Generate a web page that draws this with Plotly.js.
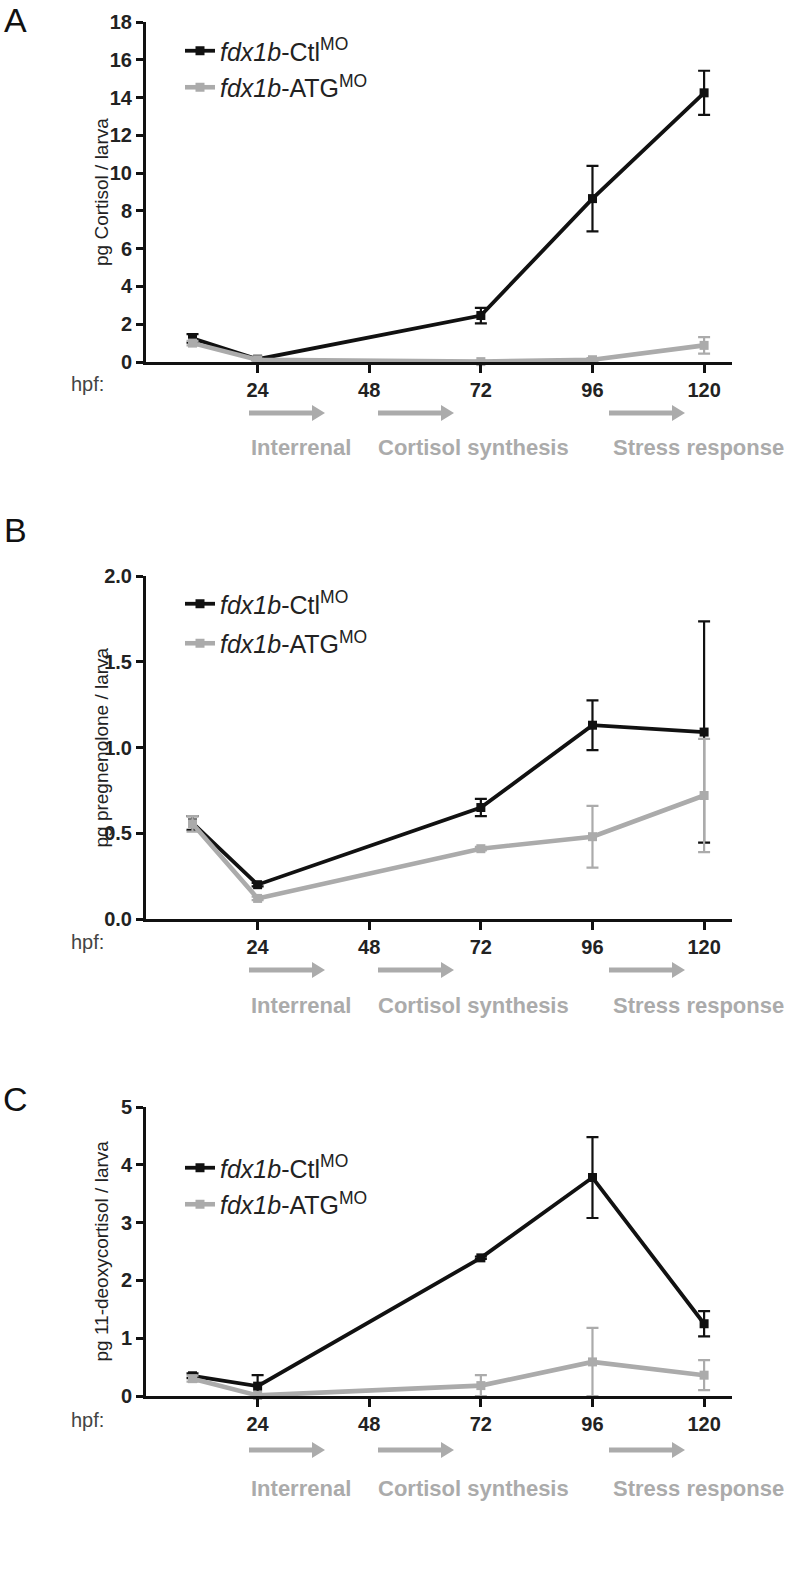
<!DOCTYPE html>
<html>
<head>
<meta charset="utf-8">
<script src="https://cdn.plot.ly/plotly-3.0.1.min.js"></script>
<style>
html,body{margin:0;padding:0;background:#fff;}
#chart{width:788px;height:1593px;}
</style>
</head>
<body>
<div id="chart"></div>
<script>
// ---------------- DATA ----------------
var hpf = [10, 24, 72, 96, 120];
var xTickVals = [24, 48, 72, 96, 120];
var xTickText = ["24", "48", "72", "96", "120"];
var seriesNames = ["<i>fdx1b</i>-Ctl<sup>MO</sup>", "<i>fdx1b</i>-ATG<sup>MO</sup>"];

// Panel A: cortisol (pg / larva)
var cortisolCtl = [1.25, 0.15, 2.46, 8.65, 14.25];
var cortisolCtlErr = [0.23, 0.05, 0.41, 1.73, 1.17];
var cortisolAtg = [1.0, 0.12, 0.02, 0.12, 0.88];
var cortisolAtgErr = [0.12, 0.05, 0.04, 0.08, 0.44];

// Panel B: pregnenolone (pg / larva)
var pregCtl = [0.56, 0.20, 0.65, 1.13, 1.09];
var pregCtlErr = [0.04, 0.01, 0.05, 0.145, 0.645];
var pregAtg = [0.555, 0.12, 0.41, 0.48, 0.72];
var pregAtgErr = [0.045, 0.01, 0.01, 0.18, 0.33];

// Panel C: 11-deoxycortisol (pg / larva)
var deoxyCtl = [0.35, 0.17, 2.39, 3.78, 1.25];
var deoxyCtlErr = [0.04, 0.19, 0.02, 0.70, 0.22];
var deoxyAtg = [0.30, 0.01, 0.18, 0.59, 0.36];
var deoxyAtgErr = [0.05, 0.01, 0.18, 0.59, 0.26];

var yTitles = ["pg Cortisol / larva", "pg pregnenolone / larva", "pg 11-deoxycortisol / larva"];
var panelLetters = ["A", "B", "C"];
var yMax = [18, 2, 5];
var yDtick = [2, 0.5, 1];
var yFormat = ["d", ".1f", "d"];
var stageLabels = ["Interrenal", "Cortisol synthesis", "Stress response"];

// ---------------- LAYOUT HELPERS ----------------
var W = 788, H = 1593;
function px(x){ return x / W; }
function py(y){ return 1 - y / H; }

var FONT = "Liberation Sans, Arial, Helvetica, sans-serif";
var BLACK = "#111111", GRAY = "#ababab";

// panel geometry (pixels)
var panels = [
  {top: 22,   bottom: 362,  hpfY: 384,  arrowY: 413,  labelY: 447,  legY: 28,   legGap: 1, letterY: 20},
  {top: 576,  bottom: 919,  hpfY: 942,  arrowY: 970,  labelY: 1005, legY: 581,  legGap: 4, letterY: 530},
  {top: 1107, bottom: 1396, hpfY: 1420, arrowY: 1450, labelY: 1488, legY: 1145, legGap: 1, letterY: 1099}
];
var xLeft = 146, xRight = 732;
var arrowsX = [[249, 325], [378, 454], [609, 685]];
var labelsX = [301, 473, 698];

var data = [];
var allSeries = [
  [cortisolCtl, cortisolCtlErr, cortisolAtg, cortisolAtgErr],
  [pregCtl, pregCtlErr, pregAtg, pregAtgErr],
  [deoxyCtl, deoxyCtlErr, deoxyAtg, deoxyAtgErr]
];

var layout = {
  width: W, height: H,
  margin: {l: 0, r: 0, t: 0, b: 0},
  paper_bgcolor: "#fff", plot_bgcolor: "rgba(0,0,0,0)",
  font: {family: FONT, color: "#222"},
  annotations: [],
  shapes: [],
  showlegend: true
};

for (var i = 0; i < 3; i++) {
  var s = allSeries[i];
  var xa = i === 0 ? "x" : "x" + (i + 1);
  var ya = i === 0 ? "y" : "y" + (i + 1);
  var lg = i === 0 ? "legend" : "legend" + (i + 1);
  var colors = [BLACK, GRAY];
  for (var k = 0; k < 2; k++) {
    data.push({
      type: "scatter", mode: "lines+markers",
      x: hpf, y: s[2 * k],
      xaxis: xa, yaxis: ya,
      name: seriesNames[k],
      legend: lg, legendgroup: "g" + i + k,
      cliponaxis: false,
      line: {color: colors[k], width: k === 0 ? 3.8 : 4.6},
      marker: {symbol: "square", size: 9, color: colors[k]},
      error_y: {type: "data", array: s[2 * k + 1], symmetric: true,
                color: colors[k], thickness: 2.2, width: 6}
    });
  }
  var p = panels[i];
  var xKey = i === 0 ? "xaxis" : "xaxis" + (i + 1);
  var yKey = i === 0 ? "yaxis" : "yaxis" + (i + 1);
  layout[xKey] = {
    domain: [px(xLeft), px(xRight)], anchor: ya,
    range: [0, 126], tickmode: "array", tickvals: xTickVals, ticktext: xTickText,
    ticks: "outside", ticklen: 8, tickwidth: 3, tickcolor: BLACK,
    showline: true, linewidth: 3, linecolor: BLACK,
    showgrid: false, zeroline: false, fixedrange: true,
    tickfont: {family: FONT, size: 20, color: "#222", weight: "bold"}
  };
  layout[yKey] = {
    domain: [py(p.bottom), py(p.top)], anchor: xa,
    range: [0, yMax[i]], dtick: yDtick[i], tick0: 0, tickformat: yFormat[i],
    ticks: "outside", ticklen: 7, tickwidth: 3, tickcolor: BLACK,
    showline: true, linewidth: 3, linecolor: BLACK,
    showgrid: false, zeroline: false, fixedrange: true,
    tickfont: {family: FONT, size: 20, color: "#222", weight: "bold"}
  };
  layout[lg] = {
    x: px(180), y: py(p.legY), xanchor: "left", yanchor: "top",
    bgcolor: "rgba(0,0,0,0)", borderwidth: 0,
    font: {family: FONT, size: 25, color: "#222"},
    tracegroupgap: p.legGap, itemclick: false, itemdoubleclick: false
  };
  // y-axis title
  layout.annotations.push({
    xref: "paper", yref: "paper", x: px(101), y: py((p.top + p.bottom) / 2),
    text: yTitles[i], textangle: -90, showarrow: false,
    xanchor: "center", yanchor: "middle",
    font: {family: FONT, size: 19, color: "#222"}
  });
  // panel letter
  layout.annotations.push({
    xref: "paper", yref: "paper", x: px(16), y: py(p.letterY),
    text: panelLetters[i], showarrow: false, xanchor: "center", yanchor: "middle",
    font: {family: FONT, size: 34, color: "#111"}
  });
  // hpf label
  layout.annotations.push({
    xref: "paper", yref: "paper", x: px(87), y: py(p.hpfY),
    text: "hpf:", showarrow: false, xanchor: "center", yanchor: "middle",
    font: {family: FONT, size: 20, color: "#444"}
  });
  for (var a = 0; a < 3; a++) {
    var x0 = arrowsX[a][0], x1 = arrowsX[a][1], ay = p.arrowY;
    var headL = 13, headH = 8;
    layout.shapes.push({
      type: "line", xref: "paper", yref: "paper",
      x0: px(x0), x1: px(x1 - headL + 1), y0: py(ay), y1: py(ay),
      line: {color: GRAY, width: 5}
    });
    layout.shapes.push({
      type: "path", xref: "paper", yref: "paper",
      path: "M " + px(x1 - headL) + "," + py(ay - headH) +
            " L " + px(x1) + "," + py(ay) +
            " L " + px(x1 - headL) + "," + py(ay + headH) + " Z",
      fillcolor: GRAY, line: {width: 0}
    });
    layout.annotations.push({
      xref: "paper", yref: "paper", x: px(labelsX[a]), y: py(p.labelY),
      text: stageLabels[a], showarrow: false, xanchor: "center", yanchor: "middle",
      font: {family: FONT, size: 22, color: GRAY, weight: "bold"}
    });
  }
}

Plotly.newPlot("chart", data, layout, {displayModeBar: false, staticPlot: true});
</script>
</body>
</html>
